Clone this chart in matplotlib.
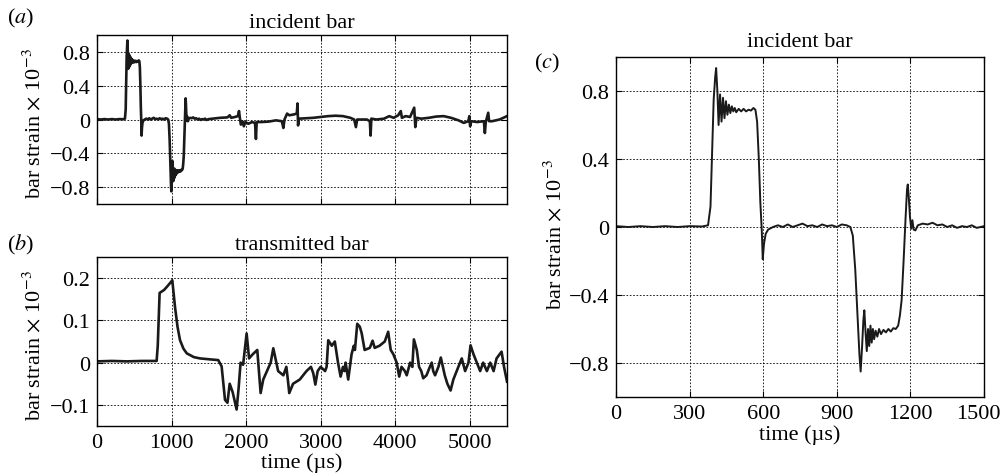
import matplotlib
matplotlib.use("Agg")
import matplotlib.pyplot as plt
from matplotlib.transforms import ScaledTranslation

plt.rcParams['font.family'] = ['Liberation Serif', 'DejaVu Serif']
plt.rcParams['mathtext.fontset'] = 'stix'
plt.rcParams['font.size'] = 16

# incident bar strain (x 1e-3) vs time (us) (a) and (c)
inc_pts = [
    (0, 0.005), (50, 0.0), (100, 0.005), (150, 0.0), (200, 0.005),
    (250, 0.0), (300, 0.005), (350, 0.003), (375, 0.01), (385, 0.12),
    (392, 0.45), (398, 0.75), (404, 0.88), (408, 0.935), (413, 0.80),
    (418, 0.60), (424, 0.78), (430, 0.62), (436, 0.76), (442, 0.64),
    (448, 0.74), (454, 0.66), (460, 0.72), (466, 0.67), (472, 0.71),
    (478, 0.68), (484, 0.70), (490, 0.675), (500, 0.695), (510, 0.68),
    (520, 0.695), (530, 0.68), (540, 0.69), (550, 0.685), (560, 0.70),
    (568, 0.69), (575, 0.62), (582, 0.40), (588, 0.15), (594, -0.02),
    (598, -0.19), (603, -0.10), (610, -0.04), (620, -0.015), (640, 0.0),
    (660, 0.01), (680, 0.0), (700, 0.015), (720, 0.0), (740, 0.01),
    (760, 0.02), (780, 0.005), (800, 0.01), (820, 0.0), (840, 0.015),
    (860, 0.005), (880, 0.01), (900, 0.0), (920, 0.015), (940, 0.01),
    (955, 0.0), (965, -0.05), (975, -0.25), (985, -0.55), (992, -0.75),
    (997, -0.85), (1003, -0.70), (1008, -0.55), (1012, -0.49),
    (1017, -0.62), (1022, -0.73), (1027, -0.60), (1032, -0.70),
    (1037, -0.58), (1042, -0.68), (1047, -0.60), (1052, -0.66),
    (1058, -0.61), (1065, -0.645), (1072, -0.60), (1080, -0.63),
    (1090, -0.605), (1100, -0.62), (1110, -0.60), (1120, -0.615),
    (1130, -0.595), (1140, -0.60), (1150, -0.58), (1157, -0.52),
    (1164, -0.43), (1172, -0.20), (1180, 0.05), (1186, 0.22), (1189, 0.25),
    (1193, 0.18), (1198, 0.06), (1203, -0.01), (1208, 0.04), (1213, -0.015),
    (1220, -0.02), (1230, 0.01), (1250, 0.02), (1270, 0.015), (1290, 0.025),
    (1310, 0.01), (1330, 0.015), (1350, 0.0), (1370, 0.01), (1390, -0.005),
    (1410, 0.005), (1430, 0.0), (1450, 0.01), (1470, -0.005), (1500, 0.005),
    (1550, 0.01), (1650, 0.02), (1750, 0.025), (1780, 0.05), (1800, 0.02),
    (1850, 0.03), (1890, 0.04), (1905, 0.10), (1915, 0.03), (1930, -0.06),
    (1950, -0.02), (1970, -0.08), (1990, -0.03), (2030, -0.05),
    (2080, -0.03), (2120, -0.04), (2132, -0.23), (2142, -0.03),
    (2200, -0.03), (2300, -0.025), (2400, -0.01), (2480, -0.02),
    (2500, -0.10), (2515, 0.0), (2550, 0.07), (2580, 0.05), (2640, 0.06),
    (2680, 0.07), (2690, 0.19), (2697, -0.07), (2710, 0.01), (2800, 0.015),
    (2900, 0.02), (3000, 0.03), (3100, 0.04), (3200, 0.045), (3300, 0.04),
    (3400, 0.02), (3450, 0.0), (3473, -0.09), (3490, 0.0), (3550, 0.0),
    (3620, 0.0), (3660, -0.02), (3670, -0.19), (3680, 0.01), (3750, 0.0),
    (3850, 0.01), (3920, 0.04), (3980, 0.02), (4040, 0.05), (4075, 0.10),
    (4090, 0.02), (4140, 0.04), (4200, 0.03), (4255, 0.14), (4270, -0.09),
    (4285, 0.02), (4350, 0.01), (4450, 0.02), (4550, 0.035), (4650, 0.04),
    (4750, 0.02), (4850, -0.01), (4920, -0.04), (4980, -0.02), (4995, 0.04),
    (5005, -0.08), (5020, -0.02), (5100, -0.03), (5190, -0.02),
    (5203, -0.16), (5215, -0.03), (5248, 0.08), (5260, -0.02),
    (5300, -0.02), (5400, 0.0), (5500, 0.04),
]

# transmitted bar strain (x 1e-3), panel (b)
tra_pts = [
    (0, 0.003), (200, 0.004), (400, 0.003), (600, 0.004), (800, 0.004),
    (815, 0.04), (840, 0.165), (900, 0.172), (950, 0.182), (988, 0.19),
    (1010, 0.195), (1047, 0.131), (1080, 0.085), (1114, 0.053),
    (1160, 0.033), (1204, 0.022), (1300, 0.013), (1382, 0.01),
    (1500, 0.008), (1627, 0.006), (1672, -0.009), (1717, -0.088),
    (1750, -0.095), (1780, -0.05), (1820, -0.07), (1873, -0.111),
    (1900, -0.06), (1926, 0.0), (1960, -0.005), (2007, 0.069),
    (2040, 0.01), (2090, 0.02), (2150, 0.03), (2195, -0.072),
    (2230, -0.04), (2280, -0.02), (2330, 0.0), (2365, 0.034),
    (2430, -0.02), (2500, -0.03), (2540, -0.01), (2560, -0.04),
    (2579, -0.072), (2630, -0.05), (2720, -0.04), (2810, -0.02),
    (2870, -0.01), (2901, -0.025), (2929, -0.052), (2960, -0.02),
    (3000, -0.01), (3060, -0.02), (3080, -0.01), (3102, 0.053),
    (3150, 0.04), (3190, 0.05), (3233, 0.0), (3268, -0.033),
    (3300, -0.01), (3320, -0.02), (3335, 0.0), (3370, -0.04),
    (3415, 0.02), (3445, 0.04), (3460, 0.03), (3491, 0.092),
    (3525, 0.085), (3550, 0.07), (3590, 0.03), (3660, 0.035),
    (3697, 0.052), (3725, 0.035), (3790, 0.04), (3860, 0.05),
    (3906, 0.073), (3940, 0.03), (3975, 0.02), (4020, 0.0),
    (4054, -0.033), (4085, -0.01), (4130, -0.02), (4155, -0.03),
    (4200, 0.0), (4230, -0.01), (4251, 0.055), (4290, 0.03),
    (4320, -0.01), (4350, -0.02), (4376, -0.037), (4420, -0.03),
    (4465, -0.01), (4490, 0.0), (4510, -0.02), (4535, -0.03),
    (4580, -0.01), (4612, 0.012), (4640, -0.01), (4665, -0.03),
    (4700, -0.05), (4743, -0.066), (4780, -0.04), (4825, -0.02),
    (4870, 0.0), (4893, 0.01), (4938, -0.02), (4983, 0.0),
    (5011, 0.041), (5050, 0.02), (5095, 0.0), (5140, -0.02),
    (5180, 0.0), (5230, -0.02), (5275, 0.0), (5320, -0.02),
    (5360, 0.01), (5427, 0.026), (5460, -0.01), (5500, -0.045),
]

long_xticks = [0, 1000, 2000, 3000, 4000, 5000]
long_xlabels = ['0', '1000', '2000', '3000', '4000', '5000']
inc_yticks = [-0.8, -0.4, 0, 0.4, 0.8]
inc_ylabels = ['\u22120.8', '\u22120.4', '0', '0.4', '0.8']
tra_yticks = [-0.1, 0, 0.1, 0.2]
tra_ylabels = ['\u22120.1', '0', '0.1', '0.2']
zoom_xticks = [0, 300, 600, 900, 1200, 1500]
zoom_xlabels = ['0', '300', '600', '900', '1200', '1500']

inc_t = [p[0] for p in inc_pts]
inc_v = [p[1] for p in inc_pts]
tra_t = [p[0] for p in tra_pts]
tra_v = [p[1] for p in tra_pts]

ylab = r'bar strain $\times$ 10$^{-3}$'

fig = plt.figure(figsize=(10.02, 4.77), dpi=100)
ax_a = fig.add_axes([0.0968, 0.5702, 0.4092, 0.3543])
ax_b = fig.add_axes([0.0968, 0.1048, 0.4092, 0.3543])
ax_c = fig.add_axes([0.6148, 0.1656, 0.3673, 0.7128])


def style(ax):
    ax.grid(True, color='k', linestyle=(0, (2, 2)), linewidth=0.6)
    ax.tick_params(direction='in', top=True, right=True, length=4, width=0.8,
                   pad=5)
    for s in ax.spines.values():
        s.set_linewidth(1.0)


ax_a.plot(inc_t, inc_v, color='#1a1a1a', linewidth=1.9)
ax_a.set_xlim(0, 5500)
ax_a.set_ylim(-1, 1)
ax_a.set_xticks(long_xticks)
ax_a.set_xticklabels([])
ax_a.set_yticks(inc_yticks)
ax_a.set_yticklabels(inc_ylabels)
ax_a.set_title('incident bar', fontsize=16, pad=6)
ax_a.set_ylabel(ylab)
ax_a.yaxis.set_label_coords(-0.125, 0.48)
style(ax_a)

ax_b.plot(tra_t, tra_v, color='#1a1a1a', linewidth=1.9)
ax_b.set_xlim(0, 5500)
ax_b.set_ylim(-0.15, 0.25)
ax_b.set_xticks(long_xticks)
ax_b.set_xticklabels(long_xlabels)
ax_b.set_yticks(tra_yticks)
ax_b.set_yticklabels(tra_ylabels)
ax_b.set_title('transmitted bar', fontsize=16, pad=6)
ax_b.set_ylabel(ylab)
ax_b.yaxis.set_label_coords(-0.125, 0.48)
ax_b.set_xlabel('time (\u00b5s)', labelpad=0)
style(ax_b)

ax_c.plot(inc_t, inc_v, color='#1a1a1a', linewidth=1.4)
ax_c.set_xlim(0, 1500)
ax_c.set_ylim(-1, 1)
ax_c.set_xticks(zoom_xticks)
ax_c.set_xticklabels(zoom_xlabels)
ax_c.set_yticks(inc_yticks)
ax_c.set_yticklabels(inc_ylabels)
ax_c.set_title('incident bar', fontsize=16, pad=8)
ax_c.set_ylabel(ylab)
ax_c.yaxis.set_label_coords(-0.135, 0.48)
ax_c.set_xlabel('time (\u00b5s)', labelpad=1)
style(ax_c)

# last tick label of (c) sits a little inside the right edge, as in the original
last = ax_c.get_xticklabels()[-1]
last.set_transform(last.get_transform() +
                   ScaledTranslation(-6 / 100, 0, fig.dpi_scale_trans))

fig.text(0.007, 0.985, r'($\mathit{a}$)', va='top', ha='left')
fig.text(0.007, 0.512, r'($\mathit{b}$)', va='top', ha='left')
fig.text(0.533, 0.892, r'($\mathit{c}$)', va='top', ha='left')

fig.savefig('out.png', dpi=100)
